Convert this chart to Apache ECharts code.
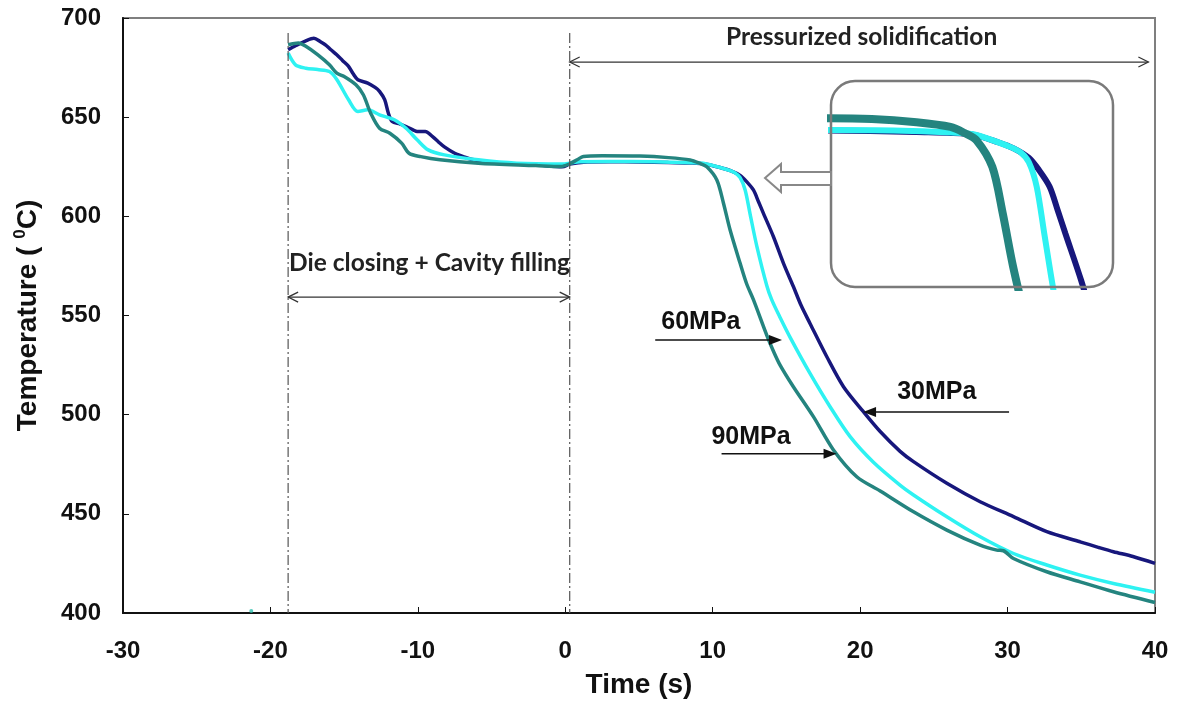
<!DOCTYPE html>
<html><head><meta charset="utf-8">
<script src="https://cdn.jsdelivr.net/npm/echarts@6/dist/echarts.min.js"></script>
<style>html,body{margin:0;padding:0;background:#fff}#c{width:1185px;height:705px}</style>
</head><body><div id="c"></div><script>
// ---- data ----
const xTicks = [-30, -20, -10, 0, 10, 20, 30, 40];
const yTicks = [400, 450, 500, 550, 600, 650, 700];
const seriesNames = ['30MPa', '60MPa', '90MPa'];
const p30 = [[-18.8,684],[-18.3,686],[-17.6,688.5],[-17.05,689.8],[-16.6,688],[-16.27,686.5],[-15.9,684],[-15.5,681.5],[-15.1,678.5],[-14.7,675.6],[-14.4,672],[-14.07,668.9],[-13.4,667.2],[-12.9,665],[-12.6,663],[-12.25,658.8],[-12.0,652],[-11.74,647.8],[-11.2,646.5],[-10.8,645.3],[-10.3,643.5],[-10.05,642.8],[-9.5,642.8],[-9.0,640.2],[-8.6,637.5],[-8.2,635],[-7.5,631.8],[-6.8,629.8],[-6.2,628.5],[-4.6,626.8],[-2.0,626],[-0.2,625],[0.3,626.3],[0.9,627],[1.5,627.4],[3,627.5],[5,627.4],[7,627.1],[8.5,626.9],[9.5,626.4],[10.5,624.6],[11.2,623.0],[11.86,620.6],[12.3,617.5],[12.76,613.3],[13.1,607.5],[13.44,601.5],[14.12,589.7],[14.8,576.3],[15.47,564.6],[16.0,555],[16.6,546],[17.74,529.2],[18.87,514.1],[20.22,501.5],[21.36,491.5],[22.71,481.5],[23.62,476.3],[25.88,465.4],[28.14,456.1],[30.4,448.6],[32.66,441],[34.92,435.9],[36.2,433],[37.18,430.9],[38.5,428.5],[40,425]];
const p60 = [[-18.8,682.3],[-18.3,676.4],[-17.6,674.7],[-16.8,674],[-16.0,673],[-15.5,669],[-14.7,658.8],[-14.07,652.9],[-13.4,653.7],[-12.6,651.2],[-11.6,648.7],[-10.8,644.4],[-10.05,638.6],[-9.3,633.5],[-8.2,631],[-5.9,628.5],[-3.3,626.8],[-0.2,626.4],[0.3,626.8],[1.0,627.5],[3,627.6],[6,627.5],[8.5,627],[9.5,626.5],[10.95,623.6],[11.5,622],[11.86,619.5],[12.2,613.3],[12.54,601],[12.99,585],[13.67,565],[14.0,558],[14.57,549],[15.25,539],[16.6,520.8],[17.96,504],[19.32,488.9],[20.9,476],[22.7,464.5],[23.62,459.5],[25.88,448.5],[28.14,438.4],[30.4,430],[32.66,424.2],[34.92,419.1],[37.18,414.9],[40,410.5]];
const p90 = [[-18.8,686.5],[-18.1,687.4],[-17.6,685.7],[-16.8,681.5],[-16.0,676.4],[-15.5,672.2],[-15.0,670.5],[-14.2,666.3],[-13.7,661.3],[-13.2,652],[-12.6,644.4],[-11.9,641.9],[-11.1,636.9],[-10.6,631.8],[-9.8,630.1],[-8.5,628.5],[-5.9,626.8],[-2.0,625.6],[-0.3,625.1],[0.3,626.5],[0.8,628.5],[1.23,630.2],[2.5,630.6],[5.07,630.4],[7,629.6],[8.47,628.4],[9.1,626.8],[9.6,625],[10.28,618.3],[10.73,606.6],[11.18,593.1],[11.86,576.3],[12.3,566],[12.76,558],[13.67,540],[14.12,532],[14.57,525],[15.47,514.1],[16.83,499],[18.19,482.2],[19.77,468.7],[21.36,461.5],[23.62,451],[25.88,441.8],[28.14,434.2],[29.27,431.7],[29.72,431.4],[30.4,427.5],[32.66,420.8],[34.92,415.7],[37.18,410.7],[40,405.3]];
const strayPoint = [[-21.3, 401]];
const phaseBounds = [-18.8, 0.3];
const phaseLabels = ['Die closing + Cavity filling', 'Pressurized solidification'];
const insetX = [3.3, 15.5];
const insetY = [588, 640];

const colors = ['#17177c', '#2ef2f2', '#24847f'];
const dataSets = [p30, p60, p90];

const chart = echarts.init(document.getElementById('c'));
const axisFont = { fontFamily: 'Liberation Sans, Arial, sans-serif', fontWeight: 'bold', fontSize: 24, color: '#111' };

const series = [];
dataSets.forEach((d, i) => {
  series.push({ type: 'line', name: seriesNames[i], data: d, xAxisIndex: 0, yAxisIndex: 0,
    showSymbol: false, smooth: 0.3,
    lineStyle: { color: colors[i], width: 3.5 }, itemStyle: { color: colors[i] }, animation: false, z: 3 });
});
series.push({ type: 'scatter', data: strayPoint, symbolSize: 4, itemStyle: { color: '#2fbfae' }, animation: false });
const insetW = [6, 6, 8];
dataSets.forEach((d, i) => {
  series.push({ type: 'line', data: d, xAxisIndex: 1, yAxisIndex: 1, showSymbol: false, clip: true,
    smooth: 0.3,
    lineStyle: { color: colors[i], width: insetW[i] }, animation: false, z: 5 });
});

const option = {
  backgroundColor: '#fff',
  animation: false,
  grid: [
    { left: 123, right: 30, top: 18, bottom: 92, show: true, borderColor: '#7f7f7f', borderWidth: 2 },
    { left: 831, top: 81, width: 282, height: 206 }
  ],
  xAxis: [
    { type: 'value', gridIndex: 0, min: xTicks[0], max: xTicks[xTicks.length - 1], interval: 10,
      name: 'Time (s)', nameLocation: 'middle', nameGap: 58,
      nameTextStyle: { fontFamily: 'Liberation Sans, Arial, sans-serif', fontWeight: 'bold', fontSize: 28, color: '#111' },
      axisLine: { show: true, onZero: false, lineStyle: { color: '#111', width: 2 } },
      axisTick: { show: true, inside: true, length: 6, lineStyle: { color: '#111', width: 1 } },
      axisLabel: Object.assign({ margin: 26 }, axisFont),
      splitLine: { show: false } },
    { type: 'value', gridIndex: 1, min: insetX[0], max: insetX[1], show: false }
  ],
  yAxis: [
    { type: 'value', gridIndex: 0, min: yTicks[0], max: yTicks[yTicks.length - 1], interval: 50,
      name: '{a|Temperature ( }{s|0}{a|C)}', nameLocation: 'middle', nameGap: 79,
      nameTextStyle: { rich: {
        a: { fontFamily: 'Liberation Sans, Arial, sans-serif', fontWeight: 'bold', fontSize: 28, color: '#111', lineHeight: 32 },
        s: { fontFamily: 'Liberation Sans, Arial, sans-serif', fontWeight: 'bold', fontSize: 17, color: '#111', verticalAlign: 'top', lineHeight: 32 } } },
      axisLine: { show: true, onZero: false, lineStyle: { color: '#111', width: 2 } },
      axisTick: { show: true, inside: true, length: 6, lineStyle: { color: '#111', width: 1 } },
      axisLabel: Object.assign({ margin: 22 }, axisFont),
      splitLine: { show: false } },
    { type: 'value', gridIndex: 1, min: insetY[0], max: insetY[1], show: false }
  ],
  series: series
};
chart.setOption(option);

const P = (x, y) => chart.convertToPixel({ gridIndex: 0 }, [x, y]);
const g = [];
// dashed phase boundaries
phaseBounds.forEach(b => {
  const a = P(b, 692.5), c = P(b, 400);
  g.push({ type: 'line', z: 10, shape: { x1: a[0], y1: a[1], x2: c[0], y2: c[1] },
    style: { stroke: '#555', lineWidth: 1.2, lineDash: [10, 3, 2, 3] } });
});
function doubleArrow(x1, x2, yv) {
  const a = P(x1, yv), b = P(x2, yv);
  g.push({ type: 'line', z: 10, shape: { x1: a[0], y1: a[1], x2: b[0], y2: b[1] }, style: { stroke: '#333', lineWidth: 1.3 } });
  g.push({ type: 'polyline', z: 10, shape: { points: [[a[0] + 10, a[1] - 5], [a[0], a[1]], [a[0] + 10, a[1] + 5]] }, style: { stroke: '#333', lineWidth: 1.3, fill: null } });
  g.push({ type: 'polyline', z: 10, shape: { points: [[b[0] - 10, b[1] - 5], [b[0], b[1]], [b[0] - 10, b[1] + 5]] }, style: { stroke: '#333', lineWidth: 1.3, fill: null } });
}
doubleArrow(phaseBounds[0], phaseBounds[1], 559.3);
doubleArrow(phaseBounds[1], 39.55, 677.8);
const phaseFont = 'bold 24.5px Lato, "Open Sans", sans-serif';
const t1 = P(phaseBounds[0], 576.4);
g.push({ type: 'text', z: 10, x: t1[0] + 1, y: t1[1], style: { text: phaseLabels[0], font: phaseFont, fill: '#222', textAlign: 'left', textVerticalAlign: 'middle' } });
const t2 = P(20.1, 690.5);
g.push({ type: 'text', z: 10, x: t2[0], y: t2[1], style: { text: phaseLabels[1], font: phaseFont, fill: '#222', textAlign: 'center', textVerticalAlign: 'middle' } });

// pressure labels with arrows
function labelArrow(txt, tx, ty, xs, xe, yv) {
  const c = P(tx, ty);
  g.push({ type: 'text', z: 10, x: c[0], y: c[1], style: { text: txt, font: 'bold 25px "Liberation Sans", Arial, sans-serif', fill: '#111', textAlign: 'center', textVerticalAlign: 'middle' } });
  const a = P(xs, yv), b = P(xe, yv);
  const dir = b[0] > a[0] ? 1 : -1;
  g.push({ type: 'line', z: 10, shape: { x1: a[0], y1: a[1], x2: b[0] - dir * 10, y2: b[1] }, style: { stroke: '#111', lineWidth: 1.5 } });
  g.push({ type: 'polygon', z: 10, shape: { points: [[b[0], b[1]], [b[0] - dir * 13, b[1] - 5], [b[0] - dir * 13, b[1] + 5]] }, style: { fill: '#111' } });
}
labelArrow(seriesNames[1], 9.2, 546.5, 6.1, 14.7, 537.6);
labelArrow(seriesNames[0], 25.2, 511.3, 30.1, 20.2, 501.3);
labelArrow(seriesNames[2], 12.6, 488.5, 10.6, 18.4, 480.3);

// inset frame and hollow arrow
g.push({ type: 'rect', z: 20, shape: { x: 831, y: 81, width: 282, height: 206, r: 24 }, style: { fill: null, stroke: '#7a7a7a', lineWidth: 2.5 } });
g.push({ type: 'polygon', z: 20, shape: { points: [[765, 178], [781, 164], [781, 172], [831, 172], [831, 185], [781, 185], [781, 192]] }, style: { fill: '#fff', stroke: '#888', lineWidth: 2 } });

chart.setOption({ graphic: g });
</script></body></html>
